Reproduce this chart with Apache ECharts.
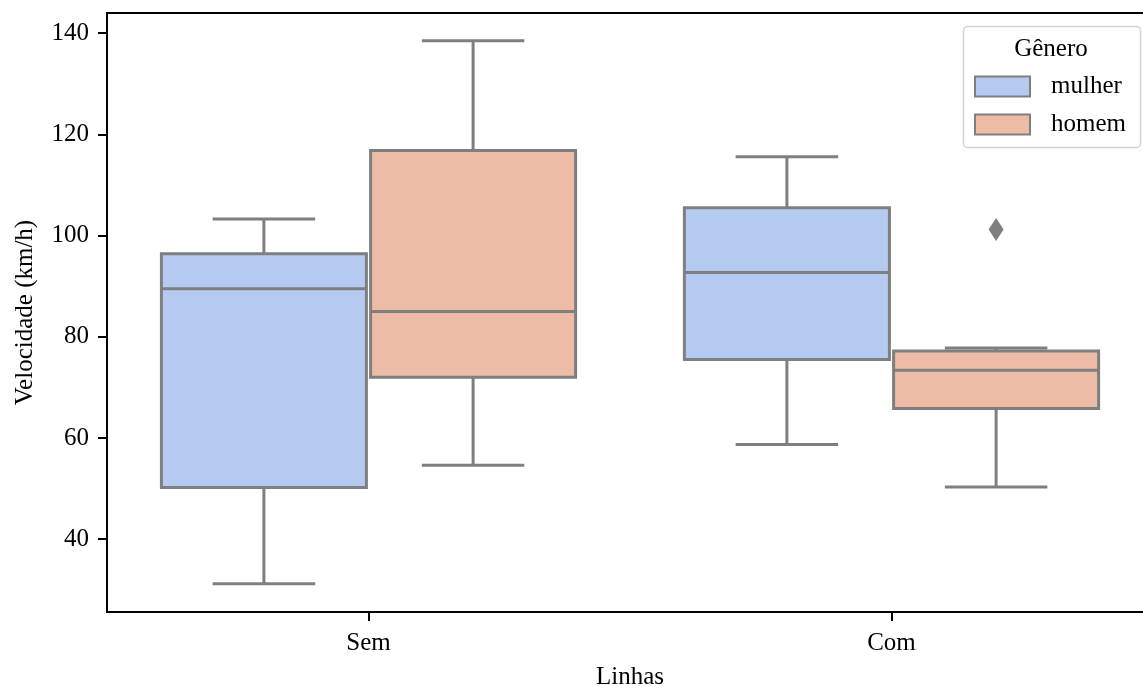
<!DOCTYPE html>
<html>
<head>
<meta charset="utf-8">
<script src="https://cdn.jsdelivr.net/npm/echarts@6/dist/echarts.min.js"></script>
<style>html,body{margin:0;padding:0;background:#fff}#c{width:1143px;height:686px}</style>
</head>
<body>
<div id="c"></div>
<script>
// ---- data ----
const categories = ['Sem', 'Com'];
const hueNames = ['mulher', 'homem'];
// [low whisker, Q1, median, Q3, high whisker] per category
const mulherStats = [[31.2, 50.2, 89.5, 96.4, 103.3], [58.7, 75.5, 92.7, 105.5, 115.6]];
const homemStats = [[54.6, 72.0, 85.0, 116.8, 138.5], [50.3, 65.8, 73.4, 77.2, 77.8]];
// outliers: [category index, value]
const homemOutliers = [[1, 101.2]];
const mulherOutliers = [];
const yTickValues = [40, 60, 80, 100, 120, 140];

const colors = ['#b5caf1', '#ecbca6'];
const edge = '#7f7f7f';
const FONT = '"Liberation Serif", "Times New Roman", serif';

function boxData(stats) {
  return stats.map((s, i) => [i].concat(s));
}
function makeRender(hueIdx) {
  return function (params, api) {
    const cat = api.value(0);
    const band = api.size([1, 0])[0];
    const off = (hueIdx === 0 ? -0.2 : 0.2) * band;
    const hw = 0.196 * band;
    const cw = 0.098 * band;
    const cx = api.coord([cat, 0])[0] + off;
    const y = [1, 2, 3, 4, 5].map(k => api.coord([cat, api.value(k)])[1]);
    const ls = { stroke: edge, lineWidth: 3 };
    return {
      type: 'group',
      children: [
        { type: 'line', shape: { x1: cx, y1: y[0], x2: cx, y2: y[1] }, style: ls },
        { type: 'line', shape: { x1: cx, y1: y[3], x2: cx, y2: y[4] }, style: ls },
        { type: 'line', shape: { x1: cx - cw, y1: y[0], x2: cx + cw, y2: y[0] }, style: ls },
        { type: 'line', shape: { x1: cx - cw, y1: y[4], x2: cx + cw, y2: y[4] }, style: ls },
        { type: 'rect', shape: { x: cx - hw, y: y[3], width: 2 * hw, height: y[1] - y[3] },
          style: { fill: colors[hueIdx], stroke: edge, lineWidth: 3 } },
        { type: 'line', shape: { x1: cx - hw, y1: y[2], x2: cx + hw, y2: y[2] }, style: ls }
      ]
    };
  };
}
function makeOutlierRender(hueIdx) {
  return function (params, api) {
    const cat = api.value(0);
    const band = api.size([1, 0])[0];
    const off = (hueIdx === 0 ? -0.2 : 0.2) * band;
    const p = api.coord([cat, api.value(1)]);
    const cx = p[0] + off, cy = p[1];
    return {
      type: 'polygon',
      shape: { points: [[cx, cy - 11.5], [cx + 7.5, cy], [cx, cy + 11.5], [cx - 7.5, cy]] },
      style: { fill: edge }
    };
  };
}

const chart = echarts.init(document.getElementById('c'), null, { renderer: 'canvas' });
chart.setOption({
  animation: false,
  backgroundColor: '#fff',
  grid: {
    left: 107, top: 13, width: 1046, height: 599,
    show: true, borderColor: '#000', borderWidth: 2, backgroundColor: 'transparent',
    outerBoundsMode: 'none', containLabel: false
  },
  xAxis: {
    type: 'category',
    data: categories,
    boundaryGap: true,
    name: 'Linhas',
    nameLocation: 'middle',
    nameGap: 53,
    nameTextStyle: { fontFamily: FONT, fontSize: 25, color: '#000' },
    axisLine: { lineStyle: { color: '#000', width: 2 } },
    axisTick: { show: true, alignWithLabel: true, interval: 0, length: 9, lineStyle: { color: '#000', width: 2 } },
    axisLabel: { fontFamily: FONT, fontSize: 25, color: '#000', margin: 19 },
    splitLine: { show: false }
  },
  yAxis: {
    type: 'value',
    min: 25.6,
    max: 144.0,
    name: 'Velocidade (km/h)',
    nameLocation: 'middle',
    nameGap: 69,
    nameTextStyle: { fontFamily: FONT, fontSize: 25, color: '#000' },
    axisLine: { show: true, lineStyle: { color: '#000', width: 2 } },
    axisTick: { show: true, length: 9, customValues: yTickValues, lineStyle: { color: '#000', width: 2 } },
    axisLabel: { fontFamily: FONT, fontSize: 25, color: '#000', margin: 18, customValues: yTickValues },
    splitLine: { show: false }
  },
  legend: {
    orient: 'vertical',
    left: 974, top: 74,
    padding: 0,
    itemWidth: 55, itemHeight: 20, itemGap: 13,
    icon: 'rect',
    textStyle: { fontFamily: FONT, fontSize: 25, color: '#000', padding: [0, 0, 0, 16] },
    data: hueNames.map((n, i) => ({ name: n, itemStyle: { color: colors[i], borderColor: edge, borderWidth: 2 } })),
    selectedMode: false,
    z: 10
  },
  graphic: [
    { type: 'rect', z: 5, shape: { x: 963.5, y: 26.5, width: 177, height: 121, r: 4 },
      style: { fill: 'rgba(255,255,255,0.85)', stroke: '#d4d4d4', lineWidth: 1.5 } },
    { type: 'text', z: 6, x: 1051, y: 49,
      style: { text: 'Gênero', font: '25px ' + FONT, fill: '#000', textAlign: 'center', textVerticalAlign: 'middle' } }
  ],
  series: [
    { name: hueNames[0], type: 'custom', renderItem: makeRender(0), data: boxData(mulherStats),
      encode: { x: 0, y: [1, 2, 3, 4, 5] }, itemStyle: { color: colors[0] } },
    { name: hueNames[1], type: 'custom', renderItem: makeRender(1), data: boxData(homemStats),
      encode: { x: 0, y: [1, 2, 3, 4, 5] }, itemStyle: { color: colors[1] } },
    { name: 'out_mulher', type: 'custom', renderItem: makeOutlierRender(0), data: mulherOutliers,
      encode: { x: 0, y: 1 } },
    { name: 'out_homem', type: 'custom', renderItem: makeOutlierRender(1), data: homemOutliers,
      encode: { x: 0, y: 1 } }
  ]
});
</script>
</body>
</html>
